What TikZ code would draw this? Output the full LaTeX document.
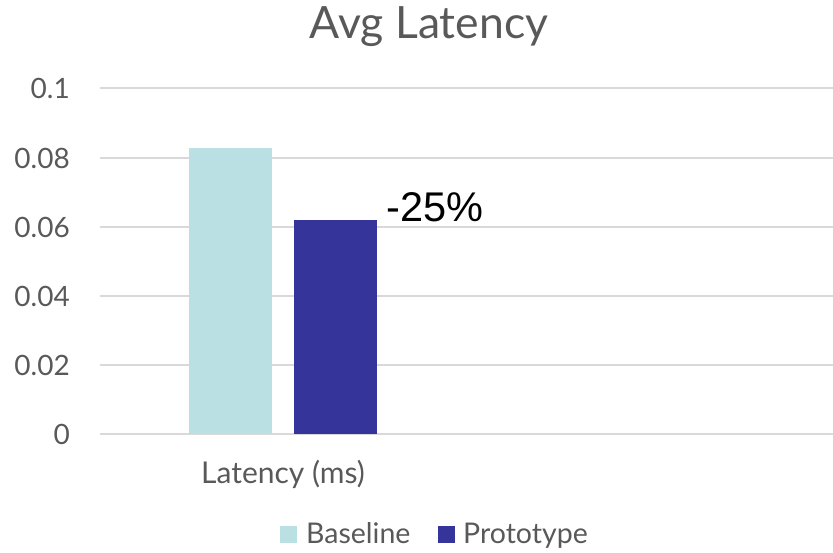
\documentclass[tikz,border=0pt]{standalone}
\usepackage{fontspec}
\setmainfont{Lato}
\newfontfamily\arialfont{Liberation Sans}
\definecolor{txtgray}{HTML}{595959}
\definecolor{gridgray}{HTML}{D9D9D9}
\definecolor{basecol}{HTML}{BBE0E3}
\definecolor{protocol}{HTML}{35349A}
\begin{document}
\begin{tikzpicture}[x=1pt,y=-1pt,
  ticklabel/.style={anchor=base east,inner sep=0pt,text=txtgray,font=\fontsize{28}{34}\selectfont},
  gridline/.style={draw=gridgray,line width=1.5pt},
  legendtext/.style={anchor=base west,inner sep=0pt,text=txtgray,font=\fontsize{28.5}{34}\selectfont}]
\useasboundingbox (0,0) rectangle (833,552);
% gridlines and tick labels
\foreach \v/\y/\lab in {0/434/0, 1/365/0.02, 2/296/0.04, 3/227/0.06, 4/158/0.08, 5/88/0.1}{
  \coordinate (gl\v) at (100,\y);
  \coordinate (gr\v) at (833,\y);
  \draw[gridline] (gl\v) -- (gr\v);
  \node[ticklabel] (t\v) at (70,\y+10.5) {\lab};
}
% bars
\node[fill=basecol,inner sep=0pt,minimum width=83pt,minimum height=286pt,anchor=south west] (bbase) at (189,434) {};
\node[fill=protocol,inner sep=0pt,minimum width=83pt,minimum height=214pt,anchor=south west] (bproto) at (294,434) {};
% annotation
\node[anchor=base west,inner sep=0pt,font=\arialfont\fontsize{41.5}{48}\selectfont] (pct) at (386,221) {-25\%};
% title
\node[anchor=base,inner sep=0pt,text=txtgray,font=\fontsize{44.5}{52}\selectfont] (title) at (429,38) {Avg Latency};
% category label
\node[anchor=base,inner sep=0pt,text=txtgray,font=\fontsize{30}{36}\selectfont] (cat) at (283,483) {Latency (ms)};
% legend
\node[fill=basecol,inner sep=0pt,minimum size=17pt,anchor=north west] (lk1) at (280,526) {};
\node[legendtext] (lt1) at (306,543) {Baseline};
\node[fill=protocol,inner sep=0pt,minimum size=17pt,anchor=north west] (lk2) at (438,526) {};
\node[legendtext] (lt2) at (463,543) {Prototype};
\end{tikzpicture}
\end{document}
